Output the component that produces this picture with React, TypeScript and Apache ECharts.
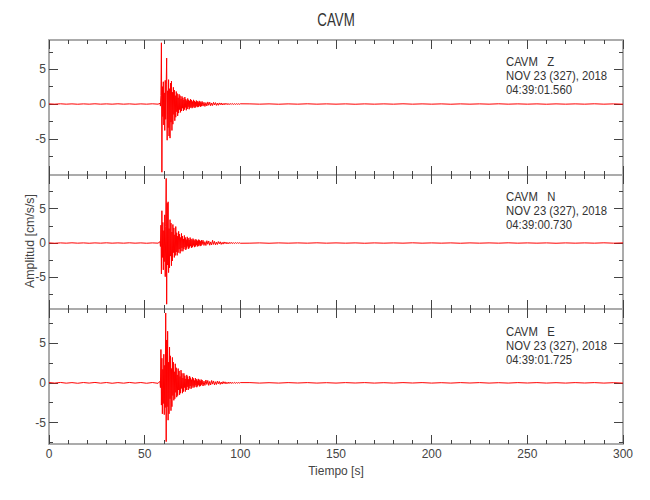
import React, { useEffect, useRef } from "react";
import * as echarts from "echarts";

// ---- data ----
const stationName = "CAVM";
const components = ["Z", "N", "E"];
const dateLabel = "NOV 23 (327), 2018";
const startTimes = ["04:39:01.560", "04:39:00.730", "04:39:01.725"];
const yRanges = [
  [-10.2, 9.2],
  [-9.6, 9.9],
  [-7.7, 9.3],
];
const yMajorTicks = [-5, 0, 5];
const yMinorTicks = [-7.5, -2.5, 2.5, 7.5];

// pre-event noise, one sample every 3 s from 0 s
const preStep = 3;
const zPre = [0.02, -0.02, 0.03, -0.02, 0.02, -0.03, 0.02, -0.02, 0.03, -0.02, 0.02, -0.02, 0.03, -0.02, 0.02, -0.03, 0.02, -0.02, 0.03, -0.02];
const nPre = [0.02, -0.03, 0.02, -0.02, 0.03, -0.02, 0.02, -0.03, 0.02, -0.02, 0.03, -0.02, 0.02, -0.02, 0.03, -0.02, 0.02, -0.03, 0.02, -0.02];
const ePre = [0.04, -0.03, 0.05, -0.04, 0.03, -0.05, 0.04, -0.03, 0.05, -0.04, 0.04, -0.05, 0.03, -0.04, 0.05, -0.03, 0.04, -0.05, 0.04, -0.06];

// strong-motion onset, one sample every 0.25 s from 58 s
const onsetStart = 58;
const onsetStep = 0.25;
const zOnset = [
  0.1, -0.3, 1.2, 8.8, -9.8, 2.5, -1.8, 3.2, -3.0, 1.6, -3.8, 3.4, -2.2, 2.8, 6.6, -5.2, 1.9, -3.4, 3.5, -4.6,
  2.2, -4.9, 3.0, -2.6, 3.3, -3.8, 1.7, -2.9, 2.4, -1.5, 2.0, -2.4, 1.2, -1.9, 1.8, -1.1, 1.5, -1.7, 0.9, -1.3,
  1.4, -0.8, 1.2, -1.2, 0.7, -1.0, 1.1, -0.6, 0.9, -1.0, 0.6, -0.8, 1.0, -0.5, 0.7, -0.9, 0.5, -0.7, 0.8, -0.4,
  0.6, -0.75, 0.45, -0.55, 0.7, -0.4, 0.55, -0.6, 0.35, -0.5, 0.6, -0.35, 0.45, -0.55, 0.3, -0.45, 0.5, -0.3, 0.4, -0.45,
  0.25, -0.4, 0.45, -0.25, 0.35, -0.4, 0.22, -0.3, 0.38,
];
const nOnset = [
  0.2, -0.5, 2.6, -4.5, 4.7, -2.1, 3.0, -3.9, 1.8, -2.7, 4.1, -4.9, 2.4, 9.4, -8.9, 5.8, -3.2, 6.0, -4.3, 2.1,
  -3.6, 3.4, -1.9, 2.9, -3.3, 1.6, -2.6, 2.7, -1.4, 2.2, -2.1, 1.2, -1.8, 2.4, -1.3, 1.5, -1.8, 1.0, -1.4, 1.7,
  -0.9, 1.3, -1.5, 0.8, -1.2, 1.4, -0.7, 1.0, -1.2, 0.6, -0.9, 1.1, -0.6, 0.8, -1.0, 0.5, -0.8, 0.9, -0.5, 0.7,
  -0.85, 0.45, -0.65, 0.8, -0.45, 0.6, -0.7, 0.4, -0.6, 0.65, -0.35, 0.5, -0.6, 0.35, -0.5, 0.55, -0.3, 0.45, -0.5, 0.3,
  -0.45, 0.5, -0.25, 0.4, -0.45, 0.25, -0.38, 0.42, -0.22,
];
const eOnset = [
  0.2, -0.6, 4.2, -2.8, 3.1, -3.9, 1.7, -2.6, 3.6, -4.0, 2.2, -3.1, 8.8, -7.4, 5.4, -3.0, 6.5, -4.7, 2.6, -3.9,
  4.5, -2.0, 3.4, -3.5, 1.8, -3.0, 3.2, -1.6, 2.6, -2.2, 1.4, -2.0, 2.4, -1.2, 1.9, -1.8, 1.0, -1.6, 1.8, -0.9,
  1.5, -1.5, 0.8, -1.3, 1.6, -0.7, 1.2, -1.3, 0.6, -1.1, 1.2, -0.6, 0.9, -1.1, 0.5, -0.9, 1.0, -0.5, 0.8, -0.9,
  0.45, -0.7, 0.85, -0.4, 0.65, -0.75, 0.4, -0.6, 0.7, -0.35, 0.55, -0.6, 0.3, -0.5, 0.6, -0.3, 0.45, -0.55, 0.28, -0.42,
  0.5, -0.26, 0.4, -0.45, 0.24, -0.38, 0.42, -0.22, 0.35,
];

// coda, one sample every 0.5 s from 80.5 s
const codaStart = 80.5;
const codaStep = 0.5;
const zCoda = [
  -0.3, 0.25, -0.35, 0.2, -0.28, 0.3, -0.18, 0.26, -0.25, 0.15, -0.22, 0.24, -0.14, 0.2, -0.2, 0.12, -0.18, 0.16, -0.1, 0.15,
  -0.14, 0.09, -0.12, 0.12, -0.08, 0.1, -0.1, 0.07, -0.08, 0.08, -0.06, 0.07, -0.06, 0.05, -0.05, 0.05, -0.04, 0.04, -0.04, 0.03,
];
const nCoda = [
  0.4, -0.35, 0.2, -0.36, 0.34, -0.18, 0.3, -0.32, 0.16, -0.28, 0.4, -0.2, 0.24, -0.26, 0.13, -0.22, 0.22, -0.12, 0.18, -0.2,
  0.1, -0.16, 0.16, -0.09, 0.13, -0.13, 0.08, -0.11, 0.1, -0.07, 0.09, -0.08, 0.06, -0.07, 0.06, -0.05, 0.05, -0.04, 0.04, -0.03,
];
const eCoda = [
  -0.4, 0.22, -0.32, 0.36, -0.2, 0.3, -0.32, 0.18, -0.27, 0.3, -0.16, 0.24, -0.26, 0.14, -0.21, 0.22, -0.12, 0.18, -0.19, 0.1,
  -0.15, 0.16, -0.09, 0.13, -0.13, 0.08, -0.1, 0.1, -0.07, 0.08, -0.08, 0.06, -0.06, 0.06, -0.05, 0.04, -0.04, 0.04, -0.03, 0.03,
];

// post-event noise, one sample every 5 s from 105 s to 300 s
const postStart = 105;
const postStep = 5;
const zPost = [0.02, -0.02, 0.02, -0.03, 0.02, -0.02, 0.03, -0.02, 0.02, -0.02, 0.02, -0.03, 0.02, -0.02, 0.02, -0.02, 0.03, -0.02, 0.02, -0.02, 0.02, -0.03, 0.02, -0.02, 0.02, -0.02, 0.03, -0.02, 0.02, -0.02, 0.02, -0.03, 0.02, -0.02, 0.02, -0.02, 0.03, -0.02, 0.02, -0.02];
const nPost = [-0.02, 0.02, -0.03, 0.02, -0.02, 0.02, -0.02, 0.03, -0.02, 0.02, -0.02, 0.02, -0.03, 0.02, -0.02, 0.02, -0.02, 0.03, -0.02, 0.02, -0.02, 0.02, -0.03, 0.02, -0.02, 0.02, -0.02, 0.03, -0.02, 0.02, -0.02, 0.02, -0.03, 0.02, -0.02, 0.02, -0.02, 0.03, -0.02, 0.02];
const ePost = [0.03, -0.03, 0.02, -0.03, 0.03, -0.02, 0.03, -0.03, 0.02, -0.03, 0.03, -0.02, 0.03, -0.03, 0.02, -0.03, 0.03, -0.02, 0.03, -0.03, 0.02, -0.03, 0.03, -0.02, 0.03, -0.03, 0.02, -0.03, 0.03, -0.02, 0.03, -0.03, 0.02, -0.03, 0.03, -0.02, 0.03, -0.03, 0.02, -0.03];

const traces = [
  { pre: zPre, onset: zOnset, coda: zCoda, post: zPost },
  { pre: nPre, onset: nOnset, coda: nCoda, post: nPost },
  { pre: ePre, onset: eOnset, coda: eCoda, post: ePost },
];

const xTicks = { min: 0, max: 300, interval: 50 };

function buildSeries(tr: { pre: number[]; onset: number[]; coda: number[]; post: number[] }) {
  const pts: number[][] = [];
  tr.pre.forEach((v, i) => pts.push([i * preStep, v]));
  tr.onset.forEach((v, i) => pts.push([onsetStart + i * onsetStep, v]));
  tr.coda.forEach((v, i) => pts.push([codaStart + i * codaStep, v]));
  tr.post.forEach((v, i) => pts.push([postStart + i * postStep, v]));
  return pts;
}

const FONT = "'Liberation Sans', Arial, sans-serif";
const FRAME = "#ababab";
const TICK = "#444";
const TXT = "#444";

const grids = [
  { left: 49, right: 27, top: 40, height: 135 },
  { left: 49, right: 27, top: 175, height: 134 },
  { left: 49, right: 27, top: 309, height: 135 },
];

export default function App() {
  const ref = useRef<HTMLDivElement>(null);
  useEffect(() => {
    if (!ref.current) return;
    const chart = echarts.init(ref.current, undefined, { renderer: "svg" });

    const xAxis: any[] = [];
    const yAxis: any[] = [];
    const series: any[] = [];

    grids.forEach((_, i) => {
      ["bottom", "top"].forEach((pos) => {
        const isLabelled = pos === "bottom" && i === 2;
        xAxis.push({
          type: "value",
          gridIndex: i,
          position: pos,
          min: xTicks.min,
          max: xTicks.max,
          interval: xTicks.interval,
          axisLine: { show: true, onZero: false, lineStyle: { color: FRAME, width: 2 } },
          axisTick: { show: true, inside: true, length: 9, lineStyle: { color: TICK, width: 1 } },
          minorTick: { show: true, splitNumber: 5, length: 4, lineStyle: { color: TICK, width: 1 } },
          splitLine: { show: false },
          axisLabel: {
            show: isLabelled,
            color: TXT,
            fontSize: 12,
            fontFamily: FONT,
            margin: 4,
          },
          name: isLabelled ? "Tiempo [s]" : "",
          nameLocation: "middle",
          nameGap: 21,
          nameTextStyle: { color: TXT, fontSize: 12, fontFamily: FONT },
        });
      });
      const [mn, mx] = yRanges[i];
      ["left", "right"].forEach((pos) => {
        yAxis.push({
          type: "value",
          gridIndex: i,
          position: pos,
          min: mn,
          max: mx,
          axisLine: { show: true, onZero: false, lineStyle: { color: FRAME, width: 2 } },
          axisTick: {
            show: true,
            inside: true,
            length: 9,
            customValues: yMajorTicks,
            lineStyle: { color: TICK, width: 1 },
          },
          splitLine: { show: false },
          axisLabel: {
            show: pos === "left",
            customValues: yMajorTicks,
            color: TXT,
            fontSize: 12,
            fontFamily: FONT,
            margin: 3,
          },
        });
        yAxis.push({
          type: "value",
          gridIndex: i,
          position: pos,
          min: mn,
          max: mx,
          axisLine: { show: false, onZero: false },
          axisTick: {
            show: true,
            inside: true,
            length: 4,
            customValues: yMinorTicks,
            lineStyle: { color: TICK, width: 1 },
          },
          splitLine: { show: false },
          axisLabel: { show: false },
        });
      });
      series.push({
        type: "line",
        name: stationName + " " + components[i],
        xAxisIndex: i * 2,
        yAxisIndex: i * 4,
        data: buildSeries(traces[i]),
        showSymbol: false,
        symbol: "none",
        lineStyle: { color: "#ff0000", width: 1 },
        clip: true,
        z: 1,
      });
    });

    const graphic: any[] = [
      {
        type: "text",
        x: 336,
        y: 19,
        scaleX: 0.7,
        style: {
          text: stationName,
          fill: "#333",
          font: `19px ${FONT}`,
          textAlign: "center",
          textVerticalAlign: "middle",
        },
      },
      {
        type: "text",
        x: 30,
        y: 241,
        rotation: Math.PI / 2,
        scaleX: 0.95,
        style: {
          text: "Amplitud [cm/s/s]",
          fill: TXT,
          font: `13px ${FONT}`,
          textAlign: "center",
          textVerticalAlign: "middle",
        },
      },
    ];
    const annTops = [55, 190, 325];
    annTops.forEach((top, i) => {
      graphic.push({
        type: "text",
        x: 506,
        y: top,
        scaleX: 0.87,
        style: {
          text: `${stationName}   ${components[i]}\n${dateLabel}\n${startTimes[i]}`,
          fill: "#333",
          font: `13px ${FONT}`,
          lineHeight: 14,
          textAlign: "left",
          textVerticalAlign: "top",
        },
      });
    });

    chart.setOption({
      animation: false,
      backgroundColor: "#fff",
      grid: grids,
      xAxis,
      yAxis,
      series,
      graphic,
    });
    return () => chart.dispose();
  }, []);
  return (
    <div
      ref={ref}
      style={{ position: "fixed", left: 0, top: 0, width: 650, height: 500, background: "#fff" }}
    />
  );
}
